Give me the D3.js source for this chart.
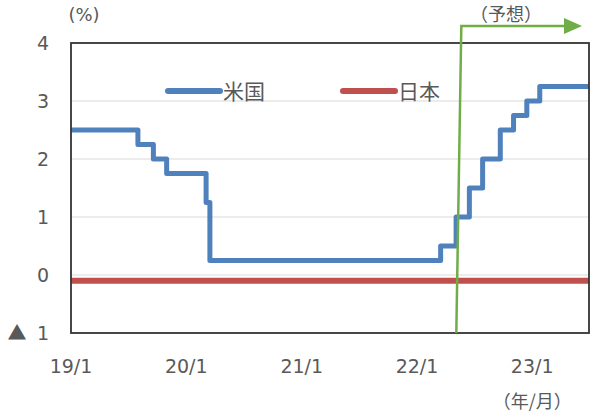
<!DOCTYPE html>
<html>
<head>
<meta charset="utf-8">
<script src="https://cdn.jsdelivr.net/npm/d3@7"></script>
<style>
  body { margin: 0; background: #fff; }
  text { font-family: "DejaVu Sans", "Noto Sans CJK JP", sans-serif; fill: #595959; }
  .jp { font-family: "Noto Sans CJK JP", sans-serif; }
</style>
</head>
<body>
<div id="chart"></div>
<script>
'use strict'
/* Datos: tasa de política (límite superior), EE.UU. y Japón */
var usDates = ['2019-01-01', '2019-08-01', '2019-09-19', '2019-10-31', '2020-03-04', '2020-03-16',
               '2022-03-17', '2022-05-05', '2022-06-16', '2022-07-28', '2022-09-22', '2022-11-03',
               '2022-12-15', '2023-01-25', '2023-06-30'];
var usRates = [2.5, 2.25, 2.0, 1.75, 1.25, 0.25, 0.5, 1.0, 1.5, 2.0, 2.5, 2.75, 3.0, 3.25, 3.25];
var jpDates = ['2019-01-01', '2023-06-30'];
var jpRates = [-0.1, -0.1];
var yTicks = [4, 3, 2, 1, 0, -1];
var xTicks = ['2019-01-01', '2020-01-01', '2021-01-01', '2022-01-01', '2023-01-01'];
var forecastStart = '2022-05-12';

var w = 600, h = 419;
var m = {left: 71, right: 589, top: 43, bottom: 333};
var parse = d3.timeParse('%Y-%m-%d');

var svg = d3.select('#chart').append('svg').attr('width', w).attr('height', h);

var x = d3.scaleTime()
          .domain([parse('2019-01-01'), parse('2023-06-30')])
          .range([m.left, m.right]);
var y = d3.scaleLinear().domain([-1, 4]).range([m.bottom, m.top]);

// Rejilla
svg.selectAll('line.grid')
   .data([0, 1, 2, 3])
   .enter().append('line')
   .attr('x1', m.left).attr('x2', m.right)
   .attr('y1', d => y(d)).attr('y2', d => y(d))
   .attr('stroke', '#d9d9d9').attr('stroke-width', 1.2);

// Etiquetas eje y
svg.selectAll('text.ytick')
   .data(yTicks)
   .enter().append('text')
   .attr('x', 49)
   .attr('y', d => y(d) + 7)
   .attr('text-anchor', 'end')
   .style('font-size', '19px')
   .text(d => Math.abs(d));
svg.append('text').attr('class', 'jp').attr('x', 17).attr('y', y(-1) + 7)
   .attr('text-anchor', 'middle').style('font-size', '19px').text('▲');
svg.append('text').attr('x', 84).attr('y', 21)
   .attr('text-anchor', 'middle').style('font-size', '18px').text('(%)');

// Etiquetas eje x
svg.selectAll('text.xtick')
   .data(xTicks)
   .enter().append('text')
   .attr('x', d => x(parse(d)))
   .attr('y', 373)
   .attr('text-anchor', 'middle')
   .style('font-size', '19px')
   .text(d => d3.timeFormat('%y/%-m')(parse(d)));
svg.append('text').attr('class', 'jp').attr('x', x(parse('2023-01-01'))).attr('y', 408)
   .attr('text-anchor', 'middle').style('font-size', '18px').text('（年/月）');

// Líneas
var line = d3.line()
             .x(d => x(parse(d[0])))
             .y(d => y(d[1]))
             .curve(d3.curveStepAfter);

svg.append('path')
   .datum(jpDates.map((d, i) => [d, jpRates[i]]))
   .attr('d', line)
   .attr('fill', 'none').attr('stroke', '#c0504d').attr('stroke-width', 6);

svg.append('path')
   .datum(usDates.map((d, i) => [d, usRates[i]]))
   .attr('d', line)
   .attr('fill', 'none').attr('stroke', '#4f81bd').attr('stroke-width', 5)
   .attr('stroke-linejoin', 'round');

// Marco
svg.append('rect')
   .attr('x', m.left).attr('y', m.top)
   .attr('width', m.right - m.left).attr('height', m.bottom - m.top)
   .attr('fill', 'none').attr('stroke', '#333').attr('stroke-width', 1.8);

// Leyenda
var legend = [['米国', '#4f81bd', 168], ['日本', '#c0504d', 343]];
legend.forEach(l => {
  svg.append('line').attr('x1', l[2]).attr('x2', l[2] + 52).attr('y1', 91).attr('y2', 91)
     .attr('stroke', l[1]).attr('stroke-width', 6).attr('stroke-linecap', 'round');
  svg.append('text').attr('class', 'jp').attr('x', l[2] + 55).attr('y', 99)
     .style('font-size', '21px').text(l[0]);
});

// Flecha de pronóstico
var fx = x(parse(forecastStart));
svg.append('path')
   .attr('d', 'M' + (fx - 2) + ',' + m.bottom + 'L' + (fx + 3) + ',26L565,26')
   .attr('fill', 'none').attr('stroke', '#70ad47').attr('stroke-width', 2.5);
svg.append('path')
   .attr('d', 'M564,18L582,26L564,34Z')
   .attr('fill', '#70ad47');
svg.append('text').attr('class', 'jp').attr('x', 506).attr('y', 21)
   .attr('text-anchor', 'middle').style('font-size', '18px').text('（予想）');
</script>
</body>
</html>
